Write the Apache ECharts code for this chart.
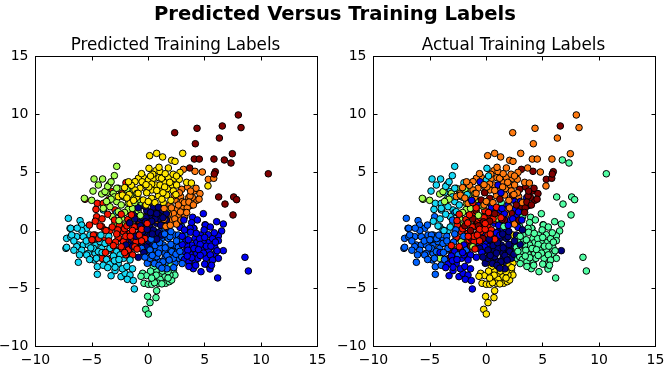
<!DOCTYPE html>
<html><head><meta charset="utf-8">
<script src="https://cdn.jsdelivr.net/npm/echarts@6/dist/echarts.min.js"></script>
<style>html,body{margin:0;padding:0;background:#fff}#c{width:668px;height:373px}</style>
</head><body><div id="c"></div>
<script>
const classColors = ['#000080','#0000f1','#0062ff','#16d8f5','#52ffa4','#a6ff50','#ffe500','#ff7a10','#f81500','#800000'];
const mainTitle = 'Predicted Versus Training Labels';
const panelTitles = ['Predicted Training Labels','Actual Training Labels'];
// each point: [x, y, actual class]; the array name is the predicted class
const predicted9 = [[7.98,9.96,7],[4.32,8.81,7],[6.56,9.01,9],[8.22,8.87,7],[2.34,8.43,7],[6.30,7.97,7],[4.17,7.48,7],[7.45,6.62,7],[4.08,6.16,7],[4.52,6.16,7],[5.82,6.16,7],[6.74,6.08,4],[7.33,5.82,4],[3.67,5.39,7],[5.94,5.07,9],[5.85,4.87,9],[10.64,4.89,4],[6.24,2.89,4],[7.57,2.89,4],[7.83,2.66,4],[6.80,2.28,4],[7.51,1.34,4]];
const predicted7 = [[3.11,5.27,9],[4.14,5.10,9],[4.79,5.04,7],[5.32,4.41,9],[5.80,4.50,9],[2.96,3.55,9],[3.49,3.75,9],[4.08,3.41,9],[4.23,3.64,9],[4.58,3.18,9],[4.29,2.60,9],[3.90,2.86,9],[3.58,2.83,1],[3.79,2.17,1],[2.87,2.92,7],[2.37,2.63,1],[3.02,2.49,1],[2.54,1.85,1],[3.05,1.91,9],[3.19,1.54,1],[2.69,1.22,1],[3.22,1.19,4],[2.07,0.85,1],[0.74,0.90,8],[1.83,-0.04,1],[5.03,0.50,4],[4.05,0.16,4],[2.22,1.48,9],[1.78,1.42,7],[1.92,2.20,1],[2.66,2.20,9],[3.70,2.97,9],[1.39,0.96,9],[2.3,3.0,9],[2.75,3.25,7],[3.2,2.4,7],[3.45,1.95,9],[3.6,2.45,9],[2.85,1.6,1],[2.35,1.0,1],[2.5,0.55,7],[1.55,0.35,4],[2.05,1.95,7],[3.4,1.55,9],[4.5,2.7,9],[1.4,1.9,1],[1.95,0.45,1],[2.9,0.9,9],[3.75,3.4,9],[4.0,2.2,9]];
const predicted6 = [[0.74,6.65,7],[0.12,6.45,7],[1.27,6.34,7],[3.05,6.65,7],[2.07,6.05,7],[2.37,5.96,7],[0.06,5.36,3],[0.68,5.16,7],[1.78,5.39,7],[2.81,5.01,7],[1.04,5.07,7],[3.40,4.15,7],[3.82,4.09,7],[5.29,3.84,7],[-0.44,4.58,7],[0,4.35,3],[0.45,4.50,7],[0.95,4.55,7],[1.78,4.55,7],[2.31,4.50,7],[2.75,4.41,7],[1.39,4.15,7],[-0.38,3.92,7],[0.30,3.49,7],[-0.15,3.29,7],[1.10,3.41,7],[1.69,3.61,7],[2.13,3.92,7],[2.51,3.92,7],[1.63,3.06,7],[2.22,3.41,7],[0.30,2.77,9],[0.59,2.40,7],[1.33,2.40,4],[1.69,1.71,7],[0.68,3.92,7],[1.04,3.92,1],[1.18,4.50,7],[-0.88,4.50,7],[-1.18,4.21,7],[-0.74,3.64,7],[-1.18,3.49,7],[-0.14,3.26,9],[-2.66,2.92,7],[-1.62,2.34,7],[-1.03,2.86,7],[-0.44,2.63,9],[-2.10,3.70,7],[-1.70,3.10,3],[-0.6,4.9,7],[0.3,4.0,7],[0.9,3.0,7],[-0.9,3.2,7],[-1.5,3.9,7],[-0.2,2.2,7],[0.4,4.85,7],[1.45,3.75,7],[1.9,4.15,7],[2.45,3.1,7],[0.75,3.45,7],[-0.55,4.2,1],[1.5,4.9,7],[2.2,4.85,7],[-1.75,4.2,7],[-2.3,3.05,7],[0.05,3.75,7],[1.2,2.7,9],[0.0,2.5,7],[-1.3,2.6,1],[-1.9,2.8,7],[2.0,2.6,7],[2.5,4.7,7],[0.95,5.45,7],[0.2,4.7,3],[-0.2,3.95,7],[1.3,3.25,1]];
const predicted5 = [[-2.80,5.53,3],[-3.01,4.73,3],[-4.81,4.44,3],[-4.05,4.44,3],[-4.43,3.92,3],[-3.45,3.98,3],[-5.67,2.77,5],[-5.02,2.60,5],[-2.66,3.64,5],[-4.13,3.15,5],[-3.69,3.26,3],[-3.10,3.20,5],[-2.07,2.86,5],[-1.47,2.92,5],[-0.74,2.63,5],[-0.44,2.14,9],[-2.80,2.49,3],[-3.40,2.05,3],[-2.36,1.05,5],[-1.33,1.05,5],[-2.95,0.62,3],[-2.07,0.47,5],[-0.29,1.19,5],[-2.66,1.62,3],[-3.99,1.91,3],[-1.53,2.97,5],[-2.21,2.92,3],[-0.59,2.20,1],[-1.77,2.34,5],[-1.18,1.05,8],[-3.84,3.35,5],[-2.80,3.64,3],[-1.33,3.49,5],[-3.20,1.20,3],[-1.80,1.80,5],[-2.40,2.20,3],[-3.6,3.8,3],[-4.9,3.4,3],[-3.0,2.9,3],[-2.5,3.0,5],[-1.9,3.55,5],[-3.3,2.7,5],[-2.1,1.55,5],[-1.4,1.9,5],[-0.9,1.7,9],[-2.6,0.85,8],[-1.6,0.7,5],[-3.7,2.5,5],[-0.7,1.3,5],[-1.2,2.4,8],[-1.0,3.2,5],[-3.3,4.2,3]];
const predicted8 = [[-1.98,4.12,3],[-4.52,2.34,3],[-4.64,1.82,3],[-5.61,2.69,5],[-3.25,3.35,3],[-2.36,3.20,7],[-3.54,2.63,3],[-3.99,2.34,3],[-2.95,1.77,3],[-4.58,1.19,2],[-4.13,0.33,3],[-3.84,0.04,3],[-3.40,-0.01,3],[-4.72,-0.39,2],[-3.99,-0.82,2],[-2.66,-0.68,2],[-2.21,-0.10,8],[-0.88,0.47,8],[-1.77,-0.96,8],[-1.18,-0.39,8],[-2.21,-0.96,5],[-0.59,-1.54,1],[-3.10,-1.68,9],[-2.66,-1.68,5],[-1.62,-1.68,8],[-4.13,-2.40,5],[-3.31,-2.40,9],[-4.87,-0.39,2],[-3.75,-0.01,3],[-2.66,-0.59,8],[-1.62,-0.24,8],[-1.33,-0.68,9],[-1.09,-0.96,8],[-2.27,-1.68,9],[-1.77,-1.68,2],[-1.39,-2.11,1],[-5.22,0.47,2],[-4.28,0.39,3],[-2.57,0.47,8],[-1.80,0.95,8],[-1.25,0.30,8],[-2.10,0.15,8],[-0.60,0.10,8],[-1.50,1.35,8],[-3.00,0.90,2],[-0.30,-0.70,9],[-2.00,-0.50,2],[-1.20,-1.40,5],[-3.6,1.4,3],[-4.1,1.0,3],[-3.2,0.3,3],[-2.7,0.05,2],[-2.4,1.4,8],[-1.9,0.4,9],[-1.6,-0.5,8],[-1.0,-1.6,8],[-2.9,-1.0,2],[-2.4,-1.4,8],[-3.5,-0.9,2],[-0.8,-0.4,8],[-4.4,-0.7,2],[-2.0,-2.1,1],[-3.8,-1.9,2],[-0.6,-0.9,8],[-2.8,-0.3,2],[-3.1,-1.3,8],[-1.4,0.0,9],[-2.1,-1.9,1],[-0.1,0.6,8],[-4.7,0.8,3],[-5.0,-0.8,2]];
const predicted3 = [[-7.09,1.05,2],[-6.05,0.85,2],[-5.91,0.47,2],[-6.94,0.19,2],[-5.46,0.19,2],[-7.24,-0.68,2],[-6.88,-0.53,2],[-6.35,-0.53,2],[-5.76,-0.53,2],[-5.17,-0.39,2],[-7.30,-1.54,2],[-6.20,-1.25,2],[-5.76,-1.25,2],[-5.32,-1.25,2],[-4.72,-1.25,2],[-4.28,-0.96,2],[-4.13,-1.54,2],[-3.40,-1.68,2],[-5.32,-1.97,2],[-4.72,-1.97,2],[-4.28,-2.26,2],[-2.80,1.54,2],[-3.99,1.77,3],[-7.24,-1.45,2],[-6.88,0.19,2],[-6.79,-0.39,2],[-6.20,-2.74,2],[-6.35,-1.39,2],[-5.46,-2.11,2],[-4.87,-1.54,2],[-4.78,-2.54,2],[-4.43,-1.82,2],[-4.52,-3.12,2],[-4.52,-3.78,2],[-2.95,-3.46,1],[-2.66,-2.83,1],[-2.42,-3.98,1],[-2.06,-3.69,1],[-1.62,-3.84,1],[-1.86,-4.21,1],[-1.33,-4.32,1],[-1.24,-5.04,1],[-3.40,-1.54,2],[-2.80,-1.82,1],[-3.84,-1.11,2],[-1.62,-2.54,1],[-2.95,-3.17,1],[-3.50,-0.50,2],[-3.10,-2.20,1],[-2.20,-2.40,1],[-6.6,-0.9,2],[-6.6,-1.7,2],[-5.9,-1.7,2],[-5.5,-0.9,2],[-5.1,-1.5,2],[-4.9,-0.8,2],[-4.6,-2.4,2],[-5.9,0.0,2],[-6.3,0.2,2],[-4.1,-1.9,1],[-3.7,-2.5,2],[-3.4,-2.9,1],[-3.0,-2.6,1],[-2.5,-2.1,2],[-2.3,-3.3,1],[-1.9,-3.1,1],[-4.0,-3.0,2],[-5.2,-2.5,2],[-3.6,-3.2,1],[-4.2,-0.4,2],[-6.1,-2.1,2],[-2.6,-2.5,1],[-1.4,-3.3,1],[-3.3,-3.9,1]];
const predicted0 = [[0.45,1.97,1],[-0.14,1.71,8],[1.18,1.71,1],[0.89,1.34,8],[0.30,1.19,9],[-0.88,0.76,8],[-1.47,1.48,9],[-1.03,1.54,8],[0.00,0.62,8],[-0.44,0.33,9],[0.15,0.33,8],[0.74,0.62,1],[0.45,0.04,8],[-0.74,-0.24,8],[-0.29,-0.53,1],[0.15,-0.39,8],[-1.18,-0.96,9],[-0.59,-1.25,1],[-1.47,-0.24,8],[-0.14,-1.40,1],[0.30,-1.11,1],[1.33,0.33,1],[-1.98,-1.25,1],[-1.09,0.33,8],[-1.53,-0.82,8],[-0.88,-2.31,1],[1.00,1.00,5],[0.60,1.50,1],[-0.50,1.10,8],[1.60,0.90,9],[0.90,-0.20,1],[-0.2,1.1,8],[0.6,1.0,8],[1.1,0.45,1],[-0.7,0.4,9],[-1.1,-0.5,8],[0.0,-0.9,1],[-0.5,-0.1,8],[0.3,0.8,9],[1.6,1.45,1],[1.75,0.15,1],[-0.3,2.1,5],[0.9,2.0,8],[-1.2,1.0,9],[0.2,1.55,8],[-0.9,1.95,8],[-0.4,-1.9,1],[-1.4,-1.35,9],[0.75,-0.75,8],[1.2,-0.4,1],[-0.1,0.1,8],[0.35,-0.3,8],[1.3,1.1,8],[0.0,2.4,1],[0.75,1.45,9],[-1.65,0.65,8],[-0.25,0.75,9]];
const predicted2 = [[-0.09,-2.83,0],[0.15,-2.40,0],[0.74,-2.49,0],[1.48,-2.40,0],[2.22,-2.49,0],[0.74,-1.68,0],[1.33,-1.25,0],[1.77,-1.54,0],[2.22,-1.82,0],[2.66,-2.40,4],[2.36,-1.25,0],[2.81,-1.11,4],[3.25,-0.39,4],[0.15,-1.82,0],[1.18,-0.68,0],[1.77,-0.68,0],[0.74,-0.53,0],[-0.14,-1.54,0],[-0.50,-1.62,0],[2.36,-0.39,6],[2.96,0.33,4],[1.04,-2.69,0],[1.77,-2.83,0],[2.36,-2.83,6],[1.04,-0.10,0],[1.92,-0.53,0],[2.66,-0.39,0],[3.25,-0.82,4],[-0.59,-1.54,0],[0.15,-1.68,0],[1.04,-1.54,0],[1.48,-1.97,0],[2.07,-1.82,0],[2.66,-1.45,4],[2.96,-2.26,4],[2.22,-2.40,0],[0.74,-2.26,0],[0.40,-0.90,0],[1.50,0.10,1],[0.35,-2.15,0],[0.9,-1.95,0],[1.3,-2.7,0],[1.65,-2.15,0],[0.6,-1.3,0],[1.0,-1.05,0],[1.5,-1.5,0],[2.0,-1.2,0],[2.45,-2.05,0],[2.8,-1.8,4],[1.85,-2.55,0],[0.25,-0.75,0],[0.55,-2.85,0],[-0.3,-2.3,0],[2.0,-0.1,0],[1.45,-0.3,0],[2.8,-0.75,4],[0.95,-3.0,0],[2.5,-0.9,0],[2.25,-3.2,6],[3.0,-2.85,4],[1.65,-3.3,0],[1.2,-3.25,0]];
const predicted1 = [[4.88,1.45,4],[3.93,1.14,4],[4.35,0.91,4],[3.84,0.68,4],[6.06,0.76,4],[6.65,0.56,4],[6.50,-0.04,4],[6.21,-0.47,4],[6.21,-0.88,4],[5.32,-0.36,4],[4.64,-0.39,4],[4.14,-0.68,4],[4.29,-1.05,4],[4.88,-1.05,4],[5.41,-1.02,4],[3.84,-1.25,4],[4.82,-1.48,4],[5.32,-1.68,4],[5.91,-1.48,4],[6.65,-1.74,0],[5.91,-2.03,4],[4.29,-1.97,4],[3.70,-2.03,4],[6.21,-2.40,4],[5.12,-2.40,4],[4.14,-2.69,4],[5.32,-2.97,4],[5.47,-3.32,4],[3.99,-3.29,4],[4.67,-3.55,4],[6.15,-4.09,4],[8.57,-2.31,4],[8.87,-3.49,4],[2.81,0.27,1],[5.06,0.47,4],[4.02,0.19,4],[3.70,0.19,4],[3.40,-1.25,4],[3.25,-1.82,4],[4.73,-1.68,4],[3.30,-0.90,4],[3.50,-1.70,4],[3.20,-2.50,4],[3.60,-2.70,4],[3.00,-1.20,0],[5.70,-0.70,4],[4.40,-2.40,4],[5.00,-2.90,4],[5.85,-0.20,4],[4.55,-0.7,4],[5.0,-0.6,4],[4.6,-1.2,4],[5.15,-1.35,4],[5.55,-1.35,4],[4.05,-1.55,4],[3.55,-0.8,4],[3.75,-0.15,4],[4.45,-1.65,4],[4.9,-1.95,4],[5.5,-2.1,4],[4.6,-2.15,4],[3.85,-2.35,4],[3.45,-2.2,4],[5.7,-2.55,4],[3.2,0.05,0],[3.6,-3.1,4],[5.95,-1.0,4],[6.1,-1.75,4],[4.2,-3.0,4],[3.0,-0.5,4],[4.25,-0.25,4],[3.15,0.9,1],[5.6,-3.0,4],[4.95,0.05,4],[5.5,0.3,4]];
const predicted4 = [[-0.50,-3.69,6],[-0.14,-3.89,6],[-0.38,-4.55,6],[0,-4.64,6],[0.45,-4.12,6],[1.04,-3.69,6],[1.48,-3.98,6],[2.22,-3.46,6],[1.48,-3.12,6],[1.04,-4.21,6],[1.54,-4.55,6],[0.30,-4.64,6],[0.89,-4.55,6],[0.74,-5.19,6],[0.68,-5.79,6],[-0.06,-5.68,6],[0.15,-6.22,6],[-0.23,-6.80,6],[0,-7.20,6],[1.86,-4.41,6],[2.07,-4.27,6],[2.36,-3.84,6],[1.92,-3.84,6],[0.74,-3.40,6],[0.45,-3.12,6],[0.2,-3.5,6],[0.7,-3.85,6],[1.25,-3.5,6],[1.75,-3.55,6],[1.2,-4.6,6],[1.75,-4.1,6],[0.55,-4.5,6],[2.0,-3.05,6],[0.3,-4.1,6],[-0.65,-3.95,6],[1.05,-3.1,6]];
const predictedGroups = [predicted0,predicted1,predicted2,predicted3,predicted4,predicted5,predicted6,predicted7,predicted8,predicted9];

// Interleave the groups so the classes overlap each other as in a single scatter call.
const rows = [];
const longest = Math.max(...predictedGroups.map(g => g.length));
for (let i = 0; i < longest; i++) {
  predictedGroups.forEach((g, cls) => { if (i < g.length) rows.push({x:g[i][0], y:g[i][1], predicted:cls, actual:g[i][2]}); });
}
const minus = v => String(v).replace('-', '\u2212');
const panels = [{left:35.5, key:'predicted'}, {left:373.5, key:'actual'}];
const W = 282, H = 290, TOP = 56.5;
const grid = [], xAxis = [], yAxis = [], series = [], title = [];
title.push({text:mainTitle, left:330, top:0, textAlign:'center', textStyle:{fontFamily:'DejaVu Sans', fontWeight:'bold', fontSize:19.6, color:'#000'}});
panels.forEach((p, i) => {
  grid.push({left:p.left, top:TOP, width:W, height:H, show:false, outerBoundsMode:'none', containLabel:false});
  title.push({text:panelTitles[i], left:p.left + W/2 - 6, top:32.5, textAlign:'center', textStyle:{fontFamily:'DejaVu Sans', fontWeight:'normal', fontSize:16.8, color:'#000'}});
  const common = {gridIndex:i, type:'value', min:-10, max:15, interval:5, splitLine:{show:false}, axisLine:{show:true, onZero:false, lineStyle:{color:'#000', width:1}}, axisTick:{show:true, inside:true, length:4, lineStyle:{color:'#000', width:1}}};
  const label = {show:true, color:'#000', fontFamily:'DejaVu Sans', fontSize:14, margin:7, formatter:minus, showMinLabel:true, showMaxLabel:true, hideOverlap:false};
  xAxis.push(Object.assign({}, common, {position:'bottom', axisLabel:label}));
  xAxis.push(Object.assign({}, common, {position:'top', axisLabel:{show:false}}));
  yAxis.push(Object.assign({}, common, {position:'left', axisLabel:label}));
  yAxis.push(Object.assign({}, common, {position:'right', axisLabel:{show:false}}));
  series.push({type:'scatter', xAxisIndex:i*2, yAxisIndex:i*2, symbolSize:6.6, animation:false, silent:true, clip:true,
    data: rows.map(r => ({value:[r.x, r.y], itemStyle:{color:classColors[r[p.key]], borderColor:'#000', borderWidth:1, opacity:1}}))});
});
const chart = echarts.init(document.getElementById('c'), null, {renderer:'canvas'});
chart.setOption({animation:false, backgroundColor:'#fff', title, grid, xAxis, yAxis, series});
</script></body></html>
